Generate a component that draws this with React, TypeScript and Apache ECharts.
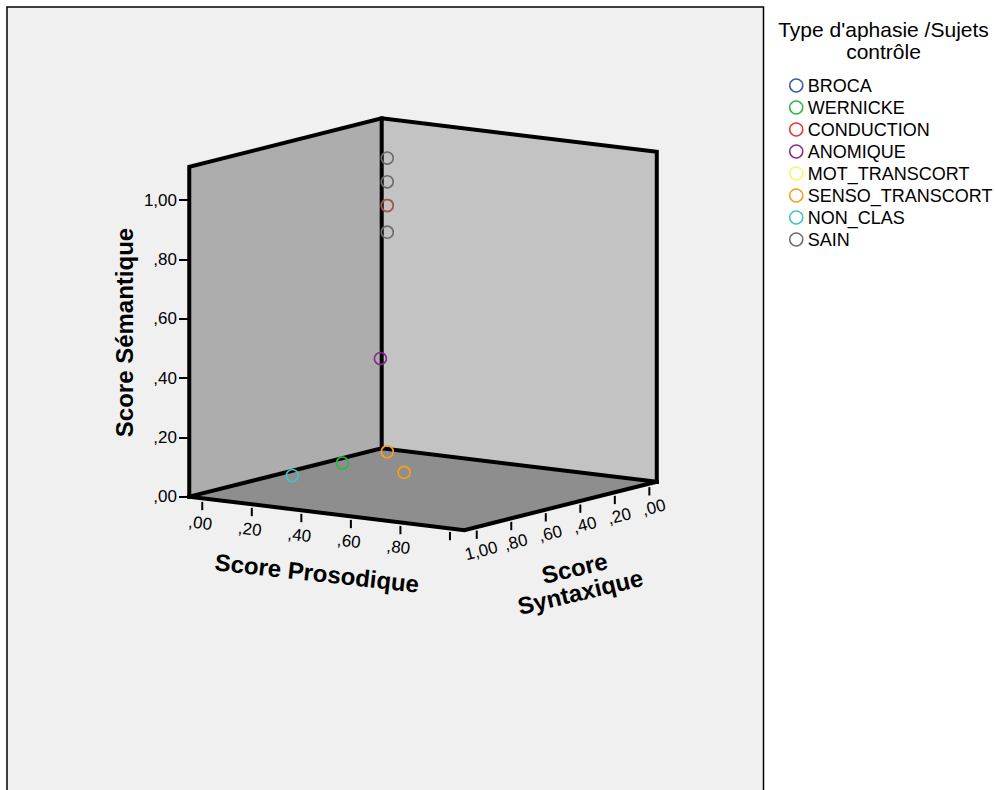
import React, { useEffect, useRef } from 'react';
import * as echarts from 'echarts';

const FONT = "'Liberation Sans', Arial, Helvetica, sans-serif";

const CATEGORIES = ['BROCA', 'WERNICKE', 'CONDUCTION', 'ANOMIQUE', 'MOT_TRANSCORT', 'SENSO_TRANSCORT', 'NON_CLAS', 'SAIN'];
const COLORS = ['#3e58ac', '#2eb848', '#e8373c', '#8b2a8c', '#f8f66c', '#f5a01c', '#44c1c6', '#6e6e6e'];

// points: [Score Prosodique, Score Syntaxique, Score Sémantique]
const BROCA: number[][] = [];
const WERNICKE = [[0, 0.26, 0]];
const CONDUCTION = [[0, 0, 0.83]];
const ANOMIQUE = [[0, 0.04, 0.32]];
const MOT_TRANSCORT: number[][] = [];
const SENSO_TRANSCORT = [[0, 0, 0], [0.27, 0.29, 0]];
const NON_CLAS = [[0, 0.55, 0]];
const SAIN = [[0, 0, 0.99], [0, 0, 0.91], [0, 0, 0.83], [0, 0, 0.74]];
const SERIES_DATA = [BROCA, WERNICKE, CONDUCTION, ANOMIQUE, MOT_TRANSCORT, SENSO_TRANSCORT, NON_CLAS, SAIN];

const SEMANTIC_TICKS = [0, 0.2, 0.4, 0.6, 0.8, 1];
const SEMANTIC_LABELS = [',00', ',20', ',40', ',60', ',80', '1,00'];
const PROSODIC_TICKS = [0, 0.2, 0.4, 0.6, 0.8, 1];
const PROSODIC_LABELS = [',00', ',20', ',40', ',60', ',80', ''];
const SYNTAX_TICKS = [0, 0.2, 0.4, 0.6, 0.8, 1];
const SYNTAX_LABELS = [',00', ',20', ',40', ',60', ',80', '1,00'];

// axis ranges of the 3D box
const P_RANGE = [-0.0525, 1.058];
const S_RANGE = [-0.043, 1.072];
const SEM_RANGE = [0, 1.112];

// oblique projection of the 3D box onto the (hidden) 2D cartesian plane
const VIEW = { originU: 192.7, originV: 0.1631, pU: 247.7, pV: -0.10145, sU: -172.6, sV: -0.14627 };

function project(p: number, s: number, sem: number): number[] {
  const a = p - P_RANGE[0];
  const b = s - S_RANGE[0];
  return [VIEW.originU + VIEW.pU * a + VIEW.sU * b, VIEW.originV + VIEW.pV * a + VIEW.sV * b + sem];
}

export default function App() {
  const ref = useRef<HTMLDivElement>(null);
  useEffect(() => {
    if (!ref.current) return;
    const chart = echarts.init(ref.current, undefined, { renderer: 'svg' });

    const boxSeries = {
      type: 'custom',
      coordinateSystem: 'cartesian2d',
      clip: false,
      silent: true,
      z: 1,
      data: [[0, 0]],
      renderItem: (_params: any, api: any) => {
        const c = (pi: number, si: number, ti: number) => api.coord(project(P_RANGE[pi], S_RANGE[si], SEM_RANGE[ti]));
        const LB = c(0, 1, 0), LT = c(0, 1, 1), BB = c(0, 0, 0), BT = c(0, 0, 1);
        const RB = c(1, 0, 0), RT = c(1, 0, 1), FB = c(1, 1, 0);
        const edge = (pts: number[][]) => ({
          type: 'polyline',
          shape: { points: pts },
          style: { stroke: '#000', lineWidth: 4, fill: 'none', lineJoin: 'miter', lineCap: 'square' },
        });
        return {
          type: 'group',
          children: [
            { type: 'polygon', shape: { points: [LB, LT, BT, BB] }, style: { fill: '#adadad' } },
            { type: 'polygon', shape: { points: [BB, BT, RT, RB] }, style: { fill: '#c3c3c3' } },
            { type: 'polygon', shape: { points: [LB, BB, RB, FB] }, style: { fill: '#8e8e8e' } },
            edge([LB, LT, BT, RT, RB]),
            edge([BT, BB]),
            edge([LB, BB, RB]),
            edge([LB, FB, RB]),
          ],
        };
      },
    };

    const tickSeries = (ticks: number[], labels: string[], isP: boolean) => ({
      type: 'custom',
      coordinateSystem: 'cartesian2d',
      clip: false,
      silent: true,
      z: 1,
      data: ticks.map((t, i) => [t, i]),
      renderItem: (_params: any, api: any) => {
        const t = api.value(0);
        const idx = api.value(1);
        const pt = (sem: number) => (isP ? api.coord(project(t, S_RANGE[1], sem)) : api.coord(project(P_RANGE[1], t, sem)));
        const a = pt(-0.012);
        const b = pt(-0.04);
        const base = pt(0);
        return {
          type: 'group',
          children: [
            { type: 'line', shape: { x1: a[0], y1: a[1], x2: b[0], y2: b[1] }, style: { stroke: '#000', lineWidth: 2 } },
            {
              type: 'text',
              x: base[0] + (isP ? -2 : 4.5),
              y: base[1] + (isP ? 25 : 24),
              rotation: isP ? -0.121 : 0.246,
              style: { text: labels[idx], fontSize: 17, fontFamily: FONT, fill: '#000', align: 'center', verticalAlign: 'middle' },
            },
          ],
        };
      },
    });

    const scatterSeries = CATEGORIES.map((name, i) => ({
      type: 'scatter',
      name,
      coordinateSystem: 'cartesian2d',
      symbol: 'circle',
      symbolSize: 12,
      clip: false,
      silent: true,
      z: name === 'CONDUCTION' ? 6 : 5,
      itemStyle: {
        color: 'rgba(0,0,0,0)',
        borderColor: COLORS[i],
        borderWidth: 1.6,
        opacity: name === 'CONDUCTION' ? 0.5 : 1,
      },
      data: SERIES_DATA[i].map((d) => project(d[0], d[1], d[2])),
    }));

    chart.setOption({
      animation: false,
      grid: { left: 189, right: 306, top: 111, bottom: 204.3 },
      xAxis: { type: 'value', min: 0, max: 500, show: false },
      yAxis: {
        type: 'value',
        min: -0.3,
        max: 1.3,
        position: 'left',
        axisLine: { show: false },
        splitLine: { show: false },
        axisTick: { show: true, length: 10, customValues: SEMANTIC_TICKS, lineStyle: { color: '#000', width: 2 } },
        axisLabel: {
          customValues: SEMANTIC_TICKS,
          formatter: (v: number) => {
            const i = SEMANTIC_TICKS.findIndex((t) => Math.abs(t - v) < 1e-6);
            return i >= 0 ? SEMANTIC_LABELS[i] : '';
          },
          margin: 12,
          fontSize: 17,
          fontFamily: FONT,
          color: '#000',
        },
      },
      legend: {
        data: CATEGORIES.map((n, i) => ({
          name: n,
          icon: 'circle',
          itemStyle: { color: 'rgba(0,0,0,0)', borderColor: COLORS[i], borderWidth: 1.5, opacity: 1 },
        })),
        orient: 'vertical',
        left: 784,
        top: 71.5,
        itemWidth: 13,
        itemHeight: 13,
        itemGap: 4,
        selectedMode: false,
        textStyle: { fontSize: 18, fontFamily: FONT, color: '#000', lineHeight: 13, height: 13 },
      },
      graphic: [
        {
          type: 'rect',
          z: -100,
          silent: true,
          shape: { x: 7, y: 7, width: 756.5, height: 800 },
          style: { fill: '#f0f0f0', stroke: '#000', lineWidth: 1.5 },
        },
        {
          type: 'text',
          x: 883.5,
          y: 40.5,
          style: {
            text: "Type d'aphasie /Sujets\ncontrôle",
            fontSize: 21,
            fontFamily: FONT,
            fill: '#000',
            align: 'center',
            verticalAlign: 'middle',
            lineHeight: 22,
          },
        },
        {
          type: 'text',
          x: 124.5,
          y: 332.5,
          rotation: Math.PI / 2,
          style: { text: 'Score Sémantique', fontSize: 24, fontWeight: 'bold', fontFamily: FONT, fill: '#000', align: 'center', verticalAlign: 'middle' },
        },
        {
          type: 'text',
          x: 317,
          y: 573,
          rotation: -0.11,
          style: { text: 'Score Prosodique', fontSize: 24, fontWeight: 'bold', fontFamily: FONT, fill: '#000', align: 'center', verticalAlign: 'middle' },
        },
        {
          type: 'text',
          x: 577.4,
          y: 580,
          rotation: 0.232,
          style: {
            text: 'Score\nSyntaxique',
            fontSize: 24,
            fontWeight: 'bold',
            fontFamily: FONT,
            fill: '#000',
            align: 'center',
            verticalAlign: 'middle',
            lineHeight: 24.5,
          },
        },
      ],
      series: [boxSeries, tickSeries(PROSODIC_TICKS, PROSODIC_LABELS, true), tickSeries(SYNTAX_TICKS, SYNTAX_LABELS, false), ...scatterSeries],
    });
    return () => chart.dispose();
  }, []);
  return <div ref={ref} style={{ position: 'absolute', left: 0, top: 0, width: 995, height: 790 }} />;
}
